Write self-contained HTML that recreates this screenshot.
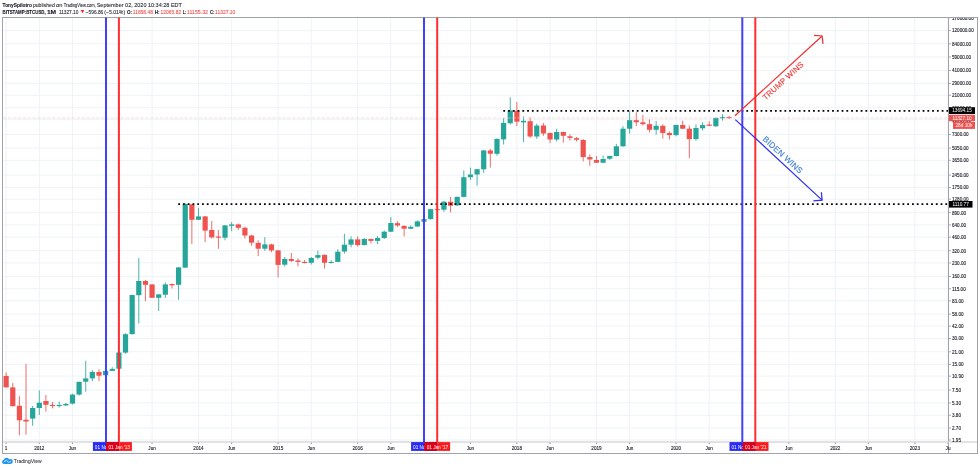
<!DOCTYPE html>
<html><head><meta charset="utf-8"><style>
html,body{margin:0;padding:0;background:#fff;width:980px;height:468px;overflow:hidden}
body{position:relative;font-family:"Liberation Sans",sans-serif}
svg text{font-family:"Liberation Sans",sans-serif}
svg{will-change:transform}
</style></head><body>
<svg width="980" height="468" viewBox="0 0 980 468" style="position:absolute;left:0;top:0">
<g stroke="#edf3f7" stroke-width="1"><line x1="6.13" y1="18" x2="6.13" y2="441" /><line x1="6.13" y1="442" x2="6.13" y2="444" stroke="#8a8d96" /><line x1="39.30" y1="18" x2="39.30" y2="441" /><line x1="39.30" y1="442" x2="39.30" y2="444" stroke="#8a8d96" /><line x1="72.47" y1="18" x2="72.47" y2="441" /><line x1="72.47" y1="442" x2="72.47" y2="444" stroke="#8a8d96" /><line x1="152.06" y1="18" x2="152.06" y2="441" /><line x1="152.06" y1="442" x2="152.06" y2="444" stroke="#8a8d96" /><line x1="198.49" y1="18" x2="198.49" y2="441" /><line x1="198.49" y1="442" x2="198.49" y2="444" stroke="#8a8d96" /><line x1="231.66" y1="18" x2="231.66" y2="441" /><line x1="231.66" y1="442" x2="231.66" y2="444" stroke="#8a8d96" /><line x1="278.09" y1="18" x2="278.09" y2="441" /><line x1="278.09" y1="442" x2="278.09" y2="444" stroke="#8a8d96" /><line x1="311.25" y1="18" x2="311.25" y2="441" /><line x1="311.25" y1="442" x2="311.25" y2="444" stroke="#8a8d96" /><line x1="357.68" y1="18" x2="357.68" y2="441" /><line x1="357.68" y1="442" x2="357.68" y2="444" stroke="#8a8d96" /><line x1="390.85" y1="18" x2="390.85" y2="441" /><line x1="390.85" y1="442" x2="390.85" y2="444" stroke="#8a8d96" /><line x1="470.44" y1="18" x2="470.44" y2="441" /><line x1="470.44" y1="442" x2="470.44" y2="444" stroke="#8a8d96" /><line x1="516.88" y1="18" x2="516.88" y2="441" /><line x1="516.88" y1="442" x2="516.88" y2="444" stroke="#8a8d96" /><line x1="550.04" y1="18" x2="550.04" y2="441" /><line x1="550.04" y1="442" x2="550.04" y2="444" stroke="#8a8d96" /><line x1="596.47" y1="18" x2="596.47" y2="441" /><line x1="596.47" y1="442" x2="596.47" y2="444" stroke="#8a8d96" /><line x1="629.64" y1="18" x2="629.64" y2="441" /><line x1="629.64" y1="442" x2="629.64" y2="444" stroke="#8a8d96" /><line x1="676.07" y1="18" x2="676.07" y2="441" /><line x1="676.07" y1="442" x2="676.07" y2="444" stroke="#8a8d96" /><line x1="709.23" y1="18" x2="709.23" y2="441" /><line x1="709.23" y1="442" x2="709.23" y2="444" stroke="#8a8d96" /><line x1="788.83" y1="18" x2="788.83" y2="441" /><line x1="788.83" y1="442" x2="788.83" y2="444" stroke="#8a8d96" /><line x1="835.26" y1="18" x2="835.26" y2="441" /><line x1="835.26" y1="442" x2="835.26" y2="444" stroke="#8a8d96" /><line x1="868.42" y1="18" x2="868.42" y2="441" /><line x1="868.42" y1="442" x2="868.42" y2="444" stroke="#8a8d96" /><line x1="914.86" y1="18" x2="914.86" y2="441" /><line x1="914.86" y1="442" x2="914.86" y2="444" stroke="#8a8d96" /><line x1="948.02" y1="18" x2="948.02" y2="441" /><line x1="948.02" y1="442" x2="948.02" y2="444" stroke="#8a8d96" /><line x1="118.90" y1="18" x2="118.90" y2="441" /><line x1="437.28" y1="18" x2="437.28" y2="441" /><line x1="755.66" y1="18" x2="755.66" y2="441" /><line x1="3" y1="17.7" x2="948" y2="17.7" /><line x1="3" y1="30.6" x2="948" y2="30.6" /><line x1="3" y1="43.8" x2="948" y2="43.8" /><line x1="3" y1="57.0" x2="948" y2="57.0" /><line x1="3" y1="70.5" x2="948" y2="70.5" /><line x1="3" y1="83.3" x2="948" y2="83.3" /><line x1="3" y1="95.3" x2="948" y2="95.3" /><line x1="3" y1="107.8" x2="948" y2="107.8" /><line x1="3" y1="119.7" x2="948" y2="119.7" /><line x1="3" y1="134.5" x2="948" y2="134.5" /><line x1="3" y1="148.2" x2="948" y2="148.2" /><line x1="3" y1="160.3" x2="948" y2="160.3" /><line x1="3" y1="175.1" x2="948" y2="175.1" /><line x1="3" y1="187.6" x2="948" y2="187.6" /><line x1="3" y1="199.2" x2="948" y2="199.2" /><line x1="3" y1="212.7" x2="948" y2="212.7" /><line x1="3" y1="224.9" x2="948" y2="224.9" /><line x1="3" y1="237.2" x2="948" y2="237.2" /><line x1="3" y1="250.7" x2="948" y2="250.7" /><line x1="3" y1="262.9" x2="948" y2="262.9" /><line x1="3" y1="276.4" x2="948" y2="276.4" /><line x1="3" y1="288.7" x2="948" y2="288.7" /><line x1="3" y1="300.8" x2="948" y2="300.8" /><line x1="3" y1="314.1" x2="948" y2="314.1" /><line x1="3" y1="326.1" x2="948" y2="326.1" /><line x1="3" y1="338.6" x2="948" y2="338.6" /><line x1="3" y1="351.8" x2="948" y2="351.8" /><line x1="3" y1="364.3" x2="948" y2="364.3" /><line x1="3" y1="376.1" x2="948" y2="376.1" /><line x1="3" y1="390.0" x2="948" y2="390.0" /><line x1="3" y1="402.9" x2="948" y2="402.9" /><line x1="3" y1="415.3" x2="948" y2="415.3" /><line x1="3" y1="428.0" x2="948" y2="428.0" /><line x1="3" y1="440.0" x2="948" y2="440.0" /></g>
<!-- frame -->
<rect x="2.5" y="17.5" width="975" height="436" fill="none" stroke="#a1a3ab" stroke-width="1"/>
<line x1="948.5" y1="17" x2="948.5" y2="454" stroke="#a1a3ab" stroke-width="1"/>
<line x1="3" y1="442" x2="977" y2="442" stroke="#d8d9dd" stroke-width="1.6"/>
<g><line x1="6.13" y1="372.5" x2="6.13" y2="387.4" stroke="#ef5350" stroke-width="0.85"/><rect x="3.53" y="375.9" width="5.2" height="11.5" fill="#ef5350"/><line x1="12.77" y1="383.0" x2="12.77" y2="406.2" stroke="#ef5350" stroke-width="0.85"/><rect x="10.17" y="387.4" width="5.2" height="18.8" fill="#ef5350"/><line x1="19.40" y1="396.2" x2="19.40" y2="435.2" stroke="#ef5350" stroke-width="0.85"/><rect x="16.80" y="405.8" width="5.2" height="14.5" fill="#ef5350"/><line x1="26.03" y1="363.8" x2="26.03" y2="434.7" stroke="#ef5350" stroke-width="0.85"/><rect x="23.43" y="419.7" width="5.2" height="1.8" fill="#ef5350"/><line x1="32.67" y1="406.0" x2="32.67" y2="425.8" stroke="#26a69a" stroke-width="0.85"/><rect x="30.07" y="408.0" width="5.2" height="10.6" fill="#26a69a"/><line x1="39.30" y1="390.4" x2="39.30" y2="415.0" stroke="#26a69a" stroke-width="0.85"/><rect x="36.70" y="402.7" width="5.2" height="5.3" fill="#26a69a"/><line x1="45.93" y1="395.0" x2="45.93" y2="411.6" stroke="#ef5350" stroke-width="0.85"/><rect x="43.33" y="401.0" width="5.2" height="3.8" fill="#ef5350"/><line x1="52.57" y1="402.0" x2="52.57" y2="408.4" stroke="#ef5350" stroke-width="0.85"/><rect x="49.97" y="405.0" width="5.2" height="1.1" fill="#ef5350"/><line x1="59.20" y1="401.6" x2="59.20" y2="407.6" stroke="#26a69a" stroke-width="0.85"/><rect x="56.60" y="405.0" width="5.2" height="1.1" fill="#26a69a"/><line x1="65.83" y1="403.0" x2="65.83" y2="406.0" stroke="#26a69a" stroke-width="0.85"/><rect x="63.23" y="403.9" width="5.2" height="1.5" fill="#26a69a"/><line x1="72.47" y1="393.8" x2="72.47" y2="404.5" stroke="#26a69a" stroke-width="0.85"/><rect x="69.87" y="394.6" width="5.2" height="9.0" fill="#26a69a"/><line x1="79.10" y1="381.5" x2="79.10" y2="395.5" stroke="#26a69a" stroke-width="0.85"/><rect x="76.50" y="381.9" width="5.2" height="12.7" fill="#26a69a"/><line x1="85.73" y1="360.8" x2="85.73" y2="391.6" stroke="#26a69a" stroke-width="0.85"/><rect x="83.13" y="378.4" width="5.2" height="3.3" fill="#26a69a"/><line x1="92.36" y1="370.2" x2="92.36" y2="381.1" stroke="#26a69a" stroke-width="0.85"/><rect x="89.76" y="372.0" width="5.2" height="6.4" fill="#26a69a"/><line x1="99.00" y1="369.2" x2="99.00" y2="381.1" stroke="#ef5350" stroke-width="0.85"/><rect x="96.40" y="372.0" width="5.2" height="3.7" fill="#ef5350"/><line x1="105.63" y1="370.0" x2="105.63" y2="376.0" stroke="#26a69a" stroke-width="0.85"/><rect x="103.03" y="370.9" width="5.2" height="4.3" fill="#26a69a"/><line x1="112.26" y1="367.2" x2="112.26" y2="371.0" stroke="#26a69a" stroke-width="0.85"/><rect x="109.66" y="368.9" width="5.2" height="2.0" fill="#26a69a"/><line x1="118.90" y1="352.5" x2="118.90" y2="368.7" stroke="#26a69a" stroke-width="0.85"/><rect x="116.30" y="352.5" width="5.2" height="16.2" fill="#26a69a"/><line x1="125.53" y1="333.3" x2="125.53" y2="353.8" stroke="#26a69a" stroke-width="0.85"/><rect x="122.93" y="334.2" width="5.2" height="18.4" fill="#26a69a"/><line x1="132.16" y1="295.0" x2="132.16" y2="334.2" stroke="#26a69a" stroke-width="0.85"/><rect x="129.56" y="295.0" width="5.2" height="39.2" fill="#26a69a"/><line x1="138.80" y1="258.0" x2="138.80" y2="323.5" stroke="#26a69a" stroke-width="0.85"/><rect x="136.20" y="281.0" width="5.2" height="14.2" fill="#26a69a"/><line x1="145.43" y1="280.0" x2="145.43" y2="301.2" stroke="#ef5350" stroke-width="0.85"/><rect x="142.83" y="281.0" width="5.2" height="3.8" fill="#ef5350"/><line x1="152.06" y1="284.4" x2="152.06" y2="297.8" stroke="#ef5350" stroke-width="0.85"/><rect x="149.46" y="284.4" width="5.2" height="13.4" fill="#ef5350"/><line x1="158.69" y1="294.0" x2="158.69" y2="311.0" stroke="#26a69a" stroke-width="0.85"/><rect x="156.09" y="294.4" width="5.2" height="3.4" fill="#26a69a"/><line x1="165.33" y1="282.4" x2="165.33" y2="297.8" stroke="#26a69a" stroke-width="0.85"/><rect x="162.73" y="284.4" width="5.2" height="10.3" fill="#26a69a"/><line x1="171.96" y1="283.6" x2="171.96" y2="288.4" stroke="#ef5350" stroke-width="0.85"/><rect x="169.36" y="284.0" width="5.2" height="1.3" fill="#ef5350"/><line x1="178.59" y1="267.0" x2="178.59" y2="299.8" stroke="#26a69a" stroke-width="0.85"/><rect x="175.99" y="267.4" width="5.2" height="17.4" fill="#26a69a"/><line x1="185.23" y1="203.2" x2="185.23" y2="268.0" stroke="#26a69a" stroke-width="0.85"/><rect x="182.63" y="203.9" width="5.2" height="63.7" fill="#26a69a"/><line x1="191.86" y1="204.0" x2="191.86" y2="244.0" stroke="#ef5350" stroke-width="0.85"/><rect x="189.26" y="204.4" width="5.2" height="15.4" fill="#ef5350"/><line x1="198.49" y1="207.8" x2="198.49" y2="220.0" stroke="#26a69a" stroke-width="0.85"/><rect x="195.89" y="216.4" width="5.2" height="3.4" fill="#26a69a"/><line x1="205.12" y1="216.0" x2="205.12" y2="242.0" stroke="#ef5350" stroke-width="0.85"/><rect x="202.53" y="216.4" width="5.2" height="14.2" fill="#ef5350"/><line x1="211.76" y1="221.0" x2="211.76" y2="238.6" stroke="#ef5350" stroke-width="0.85"/><rect x="209.16" y="230.0" width="5.2" height="7.4" fill="#ef5350"/><line x1="218.39" y1="230.0" x2="218.39" y2="248.8" stroke="#ef5350" stroke-width="0.85"/><rect x="215.79" y="236.5" width="5.2" height="1.2" fill="#ef5350"/><line x1="225.02" y1="225.0" x2="225.02" y2="240.3" stroke="#26a69a" stroke-width="0.85"/><rect x="222.42" y="225.4" width="5.2" height="12.3" fill="#26a69a"/><line x1="231.66" y1="222.0" x2="231.66" y2="231.2" stroke="#26a69a" stroke-width="0.85"/><rect x="229.06" y="224.4" width="5.2" height="1.4" fill="#26a69a"/><line x1="238.29" y1="223.5" x2="238.29" y2="230.0" stroke="#ef5350" stroke-width="0.85"/><rect x="235.69" y="224.4" width="5.2" height="3.4" fill="#ef5350"/><line x1="244.92" y1="226.6" x2="244.92" y2="238.6" stroke="#ef5350" stroke-width="0.85"/><rect x="242.32" y="227.8" width="5.2" height="7.7" fill="#ef5350"/><line x1="251.56" y1="234.7" x2="251.56" y2="245.8" stroke="#ef5350" stroke-width="0.85"/><rect x="248.96" y="235.5" width="5.2" height="7.2" fill="#ef5350"/><line x1="258.19" y1="240.3" x2="258.19" y2="256.0" stroke="#ef5350" stroke-width="0.85"/><rect x="255.59" y="242.9" width="5.2" height="5.8" fill="#ef5350"/><line x1="264.82" y1="237.2" x2="264.82" y2="250.9" stroke="#26a69a" stroke-width="0.85"/><rect x="262.22" y="244.4" width="5.2" height="4.3" fill="#26a69a"/><line x1="271.45" y1="243.7" x2="271.45" y2="252.3" stroke="#ef5350" stroke-width="0.85"/><rect x="268.85" y="244.4" width="5.2" height="6.0" fill="#ef5350"/><line x1="278.09" y1="250.0" x2="278.09" y2="277.4" stroke="#ef5350" stroke-width="0.85"/><rect x="275.49" y="250.4" width="5.2" height="14.5" fill="#ef5350"/><line x1="284.72" y1="257.0" x2="284.72" y2="266.7" stroke="#26a69a" stroke-width="0.85"/><rect x="282.12" y="259.0" width="5.2" height="5.7" fill="#26a69a"/><line x1="291.35" y1="253.0" x2="291.35" y2="262.0" stroke="#ef5350" stroke-width="0.85"/><rect x="288.75" y="259.0" width="5.2" height="1.9" fill="#ef5350"/><line x1="297.99" y1="258.3" x2="297.99" y2="266.3" stroke="#ef5350" stroke-width="0.85"/><rect x="295.39" y="260.5" width="5.2" height="1.4" fill="#ef5350"/><line x1="304.62" y1="260.0" x2="304.62" y2="263.5" stroke="#ef5350" stroke-width="0.85"/><rect x="302.02" y="261.9" width="5.2" height="1.1" fill="#ef5350"/><line x1="311.25" y1="257.0" x2="311.25" y2="264.5" stroke="#26a69a" stroke-width="0.85"/><rect x="308.65" y="258.0" width="5.2" height="4.8" fill="#26a69a"/><line x1="317.89" y1="250.6" x2="317.89" y2="259.4" stroke="#26a69a" stroke-width="0.85"/><rect x="315.29" y="255.1" width="5.2" height="2.6" fill="#26a69a"/><line x1="324.52" y1="254.5" x2="324.52" y2="268.6" stroke="#ef5350" stroke-width="0.85"/><rect x="321.92" y="254.9" width="5.2" height="7.9" fill="#ef5350"/><line x1="331.15" y1="260.3" x2="331.15" y2="263.5" stroke="#26a69a" stroke-width="0.85"/><rect x="328.55" y="261.9" width="5.2" height="1.1" fill="#26a69a"/><line x1="337.79" y1="249.1" x2="337.79" y2="262.0" stroke="#26a69a" stroke-width="0.85"/><rect x="335.19" y="251.7" width="5.2" height="10.2" fill="#26a69a"/><line x1="344.42" y1="233.8" x2="344.42" y2="253.7" stroke="#26a69a" stroke-width="0.85"/><rect x="341.82" y="244.7" width="5.2" height="6.8" fill="#26a69a"/><line x1="351.05" y1="236.4" x2="351.05" y2="247.3" stroke="#26a69a" stroke-width="0.85"/><rect x="348.45" y="239.4" width="5.2" height="5.3" fill="#26a69a"/><line x1="357.68" y1="236.4" x2="357.68" y2="246.7" stroke="#ef5350" stroke-width="0.85"/><rect x="355.08" y="239.4" width="5.2" height="5.6" fill="#ef5350"/><line x1="364.32" y1="238.0" x2="364.32" y2="245.5" stroke="#26a69a" stroke-width="0.85"/><rect x="361.72" y="239.0" width="5.2" height="6.0" fill="#26a69a"/><line x1="370.95" y1="238.5" x2="370.95" y2="243.5" stroke="#ef5350" stroke-width="0.85"/><rect x="368.35" y="239.0" width="5.2" height="1.9" fill="#ef5350"/><line x1="377.58" y1="236.0" x2="377.58" y2="244.0" stroke="#26a69a" stroke-width="0.85"/><rect x="374.98" y="238.0" width="5.2" height="2.9" fill="#26a69a"/><line x1="384.22" y1="230.4" x2="384.22" y2="239.0" stroke="#26a69a" stroke-width="0.85"/><rect x="381.62" y="231.7" width="5.2" height="6.3" fill="#26a69a"/><line x1="390.85" y1="217.2" x2="390.85" y2="232.0" stroke="#26a69a" stroke-width="0.85"/><rect x="388.25" y="223.0" width="5.2" height="8.7" fill="#26a69a"/><line x1="397.48" y1="221.3" x2="397.48" y2="226.8" stroke="#ef5350" stroke-width="0.85"/><rect x="394.88" y="223.2" width="5.2" height="2.3" fill="#ef5350"/><line x1="404.12" y1="225.5" x2="404.12" y2="236.4" stroke="#ef5350" stroke-width="0.85"/><rect x="401.51" y="225.9" width="5.2" height="2.8" fill="#ef5350"/><line x1="410.75" y1="225.5" x2="410.75" y2="229.0" stroke="#26a69a" stroke-width="0.85"/><rect x="408.15" y="226.8" width="5.2" height="1.9" fill="#26a69a"/><line x1="417.38" y1="220.4" x2="417.38" y2="227.0" stroke="#26a69a" stroke-width="0.85"/><rect x="414.78" y="221.4" width="5.2" height="5.1" fill="#26a69a"/><line x1="424.01" y1="218.5" x2="424.01" y2="222.0" stroke="#26a69a" stroke-width="0.85"/><rect x="421.41" y="219.1" width="5.2" height="2.6" fill="#26a69a"/><line x1="430.65" y1="208.8" x2="430.65" y2="219.5" stroke="#26a69a" stroke-width="0.85"/><rect x="428.05" y="209.2" width="5.2" height="9.9" fill="#26a69a"/><line x1="437.28" y1="208.5" x2="437.28" y2="211.0" stroke="#ef5350" stroke-width="0.85"/><rect x="434.68" y="209.2" width="5.2" height="1.0" fill="#ef5350"/><line x1="443.91" y1="200.9" x2="443.91" y2="211.8" stroke="#26a69a" stroke-width="0.85"/><rect x="441.31" y="201.7" width="5.2" height="8.0" fill="#26a69a"/><line x1="450.55" y1="196.9" x2="450.55" y2="212.4" stroke="#ef5350" stroke-width="0.85"/><rect x="447.95" y="201.7" width="5.2" height="4.0" fill="#ef5350"/><line x1="457.18" y1="196.5" x2="457.18" y2="206.0" stroke="#26a69a" stroke-width="0.85"/><rect x="454.58" y="196.9" width="5.2" height="8.5" fill="#26a69a"/><line x1="463.81" y1="170.4" x2="463.81" y2="197.3" stroke="#26a69a" stroke-width="0.85"/><rect x="461.21" y="177.2" width="5.2" height="19.7" fill="#26a69a"/><line x1="470.44" y1="167.6" x2="470.44" y2="180.0" stroke="#26a69a" stroke-width="0.85"/><rect x="467.84" y="174.5" width="5.2" height="2.7" fill="#26a69a"/><line x1="477.08" y1="168.8" x2="477.08" y2="185.7" stroke="#26a69a" stroke-width="0.85"/><rect x="474.48" y="169.2" width="5.2" height="5.3" fill="#26a69a"/><line x1="483.71" y1="150.0" x2="483.71" y2="172.9" stroke="#26a69a" stroke-width="0.85"/><rect x="481.11" y="150.4" width="5.2" height="18.9" fill="#26a69a"/><line x1="490.34" y1="149.0" x2="490.34" y2="167.6" stroke="#ef5350" stroke-width="0.85"/><rect x="487.74" y="150.5" width="5.2" height="3.2" fill="#ef5350"/><line x1="496.98" y1="138.5" x2="496.98" y2="155.7" stroke="#26a69a" stroke-width="0.85"/><rect x="494.38" y="138.9" width="5.2" height="14.9" fill="#26a69a"/><line x1="503.61" y1="118.0" x2="503.61" y2="144.5" stroke="#26a69a" stroke-width="0.85"/><rect x="501.01" y="122.9" width="5.2" height="16.5" fill="#26a69a"/><line x1="510.24" y1="97.2" x2="510.24" y2="124.5" stroke="#26a69a" stroke-width="0.85"/><rect x="507.64" y="110.5" width="5.2" height="12.7" fill="#26a69a"/><line x1="516.88" y1="102.0" x2="516.88" y2="126.0" stroke="#ef5350" stroke-width="0.85"/><rect x="514.28" y="110.8" width="5.2" height="10.9" fill="#ef5350"/><line x1="523.51" y1="116.4" x2="523.51" y2="142.1" stroke="#26a69a" stroke-width="0.85"/><rect x="520.91" y="120.8" width="5.2" height="1.6" fill="#26a69a"/><line x1="530.14" y1="117.2" x2="530.14" y2="138.1" stroke="#ef5350" stroke-width="0.85"/><rect x="527.54" y="121.2" width="5.2" height="15.3" fill="#ef5350"/><line x1="536.77" y1="123.7" x2="536.77" y2="138.9" stroke="#26a69a" stroke-width="0.85"/><rect x="534.17" y="125.6" width="5.2" height="10.9" fill="#26a69a"/><line x1="543.41" y1="123.0" x2="543.41" y2="135.8" stroke="#ef5350" stroke-width="0.85"/><rect x="540.81" y="125.5" width="5.2" height="8.0" fill="#ef5350"/><line x1="550.04" y1="132.6" x2="550.04" y2="143.1" stroke="#ef5350" stroke-width="0.85"/><rect x="547.44" y="133.0" width="5.2" height="6.5" fill="#ef5350"/><line x1="556.67" y1="128.7" x2="556.67" y2="141.5" stroke="#26a69a" stroke-width="0.85"/><rect x="554.07" y="132.0" width="5.2" height="7.5" fill="#26a69a"/><line x1="563.31" y1="131.6" x2="563.31" y2="142.7" stroke="#ef5350" stroke-width="0.85"/><rect x="560.71" y="132.0" width="5.2" height="3.8" fill="#ef5350"/><line x1="569.94" y1="134.2" x2="569.94" y2="140.6" stroke="#ef5350" stroke-width="0.85"/><rect x="567.34" y="136.3" width="5.2" height="1.6" fill="#ef5350"/><line x1="576.57" y1="137.0" x2="576.57" y2="141.5" stroke="#ef5350" stroke-width="0.85"/><rect x="573.97" y="138.2" width="5.2" height="1.6" fill="#ef5350"/><line x1="583.21" y1="139.0" x2="583.21" y2="161.4" stroke="#ef5350" stroke-width="0.85"/><rect x="580.61" y="140.0" width="5.2" height="17.1" fill="#ef5350"/><line x1="589.84" y1="154.4" x2="589.84" y2="165.9" stroke="#ef5350" stroke-width="0.85"/><rect x="587.24" y="157.1" width="5.2" height="2.4" fill="#ef5350"/><line x1="596.47" y1="156.0" x2="596.47" y2="163.0" stroke="#ef5350" stroke-width="0.85"/><rect x="593.87" y="160.0" width="5.2" height="2.7" fill="#ef5350"/><line x1="603.10" y1="155.5" x2="603.10" y2="163.0" stroke="#26a69a" stroke-width="0.85"/><rect x="600.50" y="159.0" width="5.2" height="3.7" fill="#26a69a"/><line x1="609.74" y1="155.6" x2="609.74" y2="159.8" stroke="#26a69a" stroke-width="0.85"/><rect x="607.14" y="156.0" width="5.2" height="2.7" fill="#26a69a"/><line x1="616.37" y1="143.8" x2="616.37" y2="156.4" stroke="#26a69a" stroke-width="0.85"/><rect x="613.77" y="146.3" width="5.2" height="9.7" fill="#26a69a"/><line x1="623.00" y1="126.2" x2="623.00" y2="146.7" stroke="#26a69a" stroke-width="0.85"/><rect x="620.40" y="128.7" width="5.2" height="17.6" fill="#26a69a"/><line x1="629.64" y1="110.6" x2="629.64" y2="133.8" stroke="#26a69a" stroke-width="0.85"/><rect x="627.04" y="120.2" width="5.2" height="8.5" fill="#26a69a"/><line x1="636.27" y1="112.2" x2="636.27" y2="126.2" stroke="#ef5350" stroke-width="0.85"/><rect x="633.67" y="120.2" width="5.2" height="2.1" fill="#ef5350"/><line x1="642.90" y1="115.0" x2="642.90" y2="125.5" stroke="#ef5350" stroke-width="0.85"/><rect x="640.30" y="122.3" width="5.2" height="1.9" fill="#ef5350"/><line x1="649.54" y1="119.4" x2="649.54" y2="132.6" stroke="#ef5350" stroke-width="0.85"/><rect x="646.94" y="124.2" width="5.2" height="5.6" fill="#ef5350"/><line x1="656.17" y1="121.0" x2="656.17" y2="134.6" stroke="#26a69a" stroke-width="0.85"/><rect x="653.57" y="125.8" width="5.2" height="4.0" fill="#26a69a"/><line x1="662.80" y1="124.2" x2="662.80" y2="138.7" stroke="#ef5350" stroke-width="0.85"/><rect x="660.20" y="125.8" width="5.2" height="7.2" fill="#ef5350"/><line x1="669.43" y1="131.4" x2="669.43" y2="139.5" stroke="#ef5350" stroke-width="0.85"/><rect x="666.83" y="133.0" width="5.2" height="2.1" fill="#ef5350"/><line x1="676.07" y1="124.6" x2="676.07" y2="136.3" stroke="#26a69a" stroke-width="0.85"/><rect x="673.47" y="125.0" width="5.2" height="10.1" fill="#26a69a"/><line x1="682.70" y1="120.7" x2="682.70" y2="129.0" stroke="#ef5350" stroke-width="0.85"/><rect x="680.10" y="125.0" width="5.2" height="3.7" fill="#ef5350"/><line x1="689.33" y1="125.5" x2="689.33" y2="158.1" stroke="#ef5350" stroke-width="0.85"/><rect x="686.73" y="128.7" width="5.2" height="10.4" fill="#ef5350"/><line x1="695.97" y1="124.4" x2="695.97" y2="140.5" stroke="#26a69a" stroke-width="0.85"/><rect x="693.37" y="128.0" width="5.2" height="11.1" fill="#26a69a"/><line x1="702.60" y1="122.2" x2="702.60" y2="130.6" stroke="#26a69a" stroke-width="0.85"/><rect x="700.00" y="125.1" width="5.2" height="3.2" fill="#26a69a"/><line x1="709.23" y1="121.4" x2="709.23" y2="126.2" stroke="#ef5350" stroke-width="0.85"/><rect x="706.63" y="124.6" width="5.2" height="1.2" fill="#ef5350"/><line x1="715.87" y1="117.5" x2="715.87" y2="126.7" stroke="#26a69a" stroke-width="0.85"/><rect x="713.27" y="117.9" width="5.2" height="8.4" fill="#26a69a"/><line x1="722.50" y1="114.2" x2="722.50" y2="120.6" stroke="#26a69a" stroke-width="0.85"/><rect x="719.90" y="117.0" width="5.2" height="1.2" fill="#26a69a"/><line x1="729.13" y1="115.8" x2="729.13" y2="119.0" stroke="#ef5350" stroke-width="0.85"/><rect x="726.53" y="117.1" width="5.2" height="1.1" fill="#ef5350"/></g>
<line x1="3" y1="118" x2="948" y2="118" stroke="#f7c4c4" stroke-width="0.6" stroke-dasharray="3.5 1.4"/>
<line x1="503.3" y1="110.9" x2="948" y2="110.9" stroke="#000" stroke-width="1.6" stroke-dasharray="1.8 2.965"/>
<line x1="178.2" y1="204.1" x2="948" y2="204.1" stroke="#000" stroke-width="1.6" stroke-dasharray="1.8 2.965"/>
<line x1="424" y1="17.5" x2="424" y2="442" stroke="#4040ff" stroke-width="2"/>
<line x1="437.2" y1="17.5" x2="437.2" y2="442" stroke="#ff2e2e" stroke-width="2"/>
<line x1="106" y1="17.5" x2="106" y2="442" stroke="#4040ff" stroke-width="2"/>
<line x1="118.9" y1="17.5" x2="118.9" y2="442" stroke="#ff2e2e" stroke-width="2"/>
<line x1="742.3" y1="17.5" x2="742.3" y2="442" stroke="#4040ff" stroke-width="2"/>
<line x1="755.3" y1="17.5" x2="755.3" y2="442" stroke="#ff2e2e" stroke-width="2"/>
<!-- trump arrow -->
<g stroke="#f23030" stroke-width="1.25" fill="none">
<line x1="735" y1="115.7" x2="822.1" y2="36"/>
<polyline points="814,35.4 822.1,36 823,43.9"/>
</g>
<text x="0" y="0" transform="translate(765.5,100.6) rotate(-42.5)" fill="#f03a3a" stroke="#f03a3a" stroke-width="0.15" style="font-size:7.9px;letter-spacing:0.2px">TRUMP WINS</text>
<g stroke="#3030ee" stroke-width="1.25" fill="none">
<line x1="735.3" y1="119.6" x2="822.1" y2="200.1"/>
<polyline points="813.4,200.8 822.1,200.1 821.4,192.3"/>
</g>
<text x="0" y="0" transform="translate(762.3,139.8) rotate(42.5)" fill="#3f7fd2" stroke="#3f7fd2" stroke-width="0.15" style="font-size:8.2px;letter-spacing:0.22px">BIDEN WINS</text>
<defs><clipPath id="pc"><rect x="948" y="18" width="29" height="435"/></clipPath></defs>
<g clip-path="url(#pc)" fill="#1c1e26" stroke="#1c1e26" stroke-width="0.12" style="font-size:4.6px"><line x1="948.5" y1="17.7" x2="951" y2="17.7" stroke="#9598a1" stroke-width="0.8"/><text x="952" y="19.5">170000.00</text><line x1="948.5" y1="30.6" x2="951" y2="30.6" stroke="#9598a1" stroke-width="0.8"/><text x="952" y="32.4">120000.00</text><line x1="948.5" y1="43.8" x2="951" y2="43.8" stroke="#9598a1" stroke-width="0.8"/><text x="952" y="45.6">84000.00</text><line x1="948.5" y1="57.0" x2="951" y2="57.0" stroke="#9598a1" stroke-width="0.8"/><text x="952" y="58.8">59000.00</text><line x1="948.5" y1="70.5" x2="951" y2="70.5" stroke="#9598a1" stroke-width="0.8"/><text x="952" y="72.3">41000.00</text><line x1="948.5" y1="83.3" x2="951" y2="83.3" stroke="#9598a1" stroke-width="0.8"/><text x="952" y="85.1">29000.00</text><line x1="948.5" y1="95.3" x2="951" y2="95.3" stroke="#9598a1" stroke-width="0.8"/><text x="952" y="97.1">21000.00</text><line x1="948.5" y1="107.8" x2="951" y2="107.8" stroke="#9598a1" stroke-width="0.8"/><text x="952" y="109.6">15000.00</text><line x1="948.5" y1="119.7" x2="951" y2="119.7" stroke="#9598a1" stroke-width="0.8"/><text x="952" y="121.5">10900.00</text><line x1="948.5" y1="134.5" x2="951" y2="134.5" stroke="#9598a1" stroke-width="0.8"/><text x="952" y="136.3">7300.00</text><line x1="948.5" y1="148.2" x2="951" y2="148.2" stroke="#9598a1" stroke-width="0.8"/><text x="952" y="150.0">5050.00</text><line x1="948.5" y1="160.3" x2="951" y2="160.3" stroke="#9598a1" stroke-width="0.8"/><text x="952" y="162.1">3650.00</text><line x1="948.5" y1="175.1" x2="951" y2="175.1" stroke="#9598a1" stroke-width="0.8"/><text x="952" y="176.9">2450.00</text><line x1="948.5" y1="187.6" x2="951" y2="187.6" stroke="#9598a1" stroke-width="0.8"/><text x="952" y="189.4">1750.00</text><line x1="948.5" y1="199.2" x2="951" y2="199.2" stroke="#9598a1" stroke-width="0.8"/><text x="952" y="201.0">1280.00</text><line x1="948.5" y1="212.7" x2="951" y2="212.7" stroke="#9598a1" stroke-width="0.8"/><text x="952" y="214.5">890.00</text><line x1="948.5" y1="224.9" x2="951" y2="224.9" stroke="#9598a1" stroke-width="0.8"/><text x="952" y="226.7">640.00</text><line x1="948.5" y1="237.2" x2="951" y2="237.2" stroke="#9598a1" stroke-width="0.8"/><text x="952" y="239.0">460.00</text><line x1="948.5" y1="250.7" x2="951" y2="250.7" stroke="#9598a1" stroke-width="0.8"/><text x="952" y="252.5">320.00</text><line x1="948.5" y1="262.9" x2="951" y2="262.9" stroke="#9598a1" stroke-width="0.8"/><text x="952" y="264.7">230.00</text><line x1="948.5" y1="276.4" x2="951" y2="276.4" stroke="#9598a1" stroke-width="0.8"/><text x="952" y="278.2">160.00</text><line x1="948.5" y1="288.7" x2="951" y2="288.7" stroke="#9598a1" stroke-width="0.8"/><text x="952" y="290.5">115.00</text><line x1="948.5" y1="300.8" x2="951" y2="300.8" stroke="#9598a1" stroke-width="0.8"/><text x="952" y="302.6">83.00</text><line x1="948.5" y1="314.1" x2="951" y2="314.1" stroke="#9598a1" stroke-width="0.8"/><text x="952" y="315.9">58.00</text><line x1="948.5" y1="326.1" x2="951" y2="326.1" stroke="#9598a1" stroke-width="0.8"/><text x="952" y="327.9">42.00</text><line x1="948.5" y1="338.6" x2="951" y2="338.6" stroke="#9598a1" stroke-width="0.8"/><text x="952" y="340.4">30.00</text><line x1="948.5" y1="351.8" x2="951" y2="351.8" stroke="#9598a1" stroke-width="0.8"/><text x="952" y="353.6">21.00</text><line x1="948.5" y1="364.3" x2="951" y2="364.3" stroke="#9598a1" stroke-width="0.8"/><text x="952" y="366.1">15.00</text><line x1="948.5" y1="376.1" x2="951" y2="376.1" stroke="#9598a1" stroke-width="0.8"/><text x="952" y="377.9">10.90</text><line x1="948.5" y1="390.0" x2="951" y2="390.0" stroke="#9598a1" stroke-width="0.8"/><text x="952" y="391.8">7.50</text><line x1="948.5" y1="402.9" x2="951" y2="402.9" stroke="#9598a1" stroke-width="0.8"/><text x="952" y="404.7">5.30</text><line x1="948.5" y1="415.3" x2="951" y2="415.3" stroke="#9598a1" stroke-width="0.8"/><text x="952" y="417.1">3.80</text><line x1="948.5" y1="428.0" x2="951" y2="428.0" stroke="#9598a1" stroke-width="0.8"/><text x="952" y="429.8">2.70</text><line x1="948.5" y1="440.0" x2="951" y2="440.0" stroke="#9598a1" stroke-width="0.8"/><text x="952" y="441.8">1.95</text></g>
<g fill="#1c1e26" stroke="#1c1e26" stroke-width="0.12" style="font-size:4.6px" text-anchor="middle"><text x="6.13" y="450">1</text><text x="39.30" y="450">2012</text><text x="72.47" y="450">Jun</text><text x="152.06" y="450">Jun</text><text x="198.49" y="450">2014</text><text x="231.66" y="450">Jun</text><text x="278.09" y="450">2015</text><text x="311.25" y="450">Jun</text><text x="357.68" y="450">2016</text><text x="390.85" y="450">Jun</text><text x="470.44" y="450">Jun</text><text x="516.88" y="450">2018</text><text x="550.04" y="450">Jun</text><text x="596.47" y="450">2019</text><text x="629.64" y="450">Jun</text><text x="676.07" y="450">2020</text><text x="709.23" y="450">Jun</text><text x="788.83" y="450">Jun</text><text x="835.26" y="450">2022</text><text x="868.42" y="450">Jun</text><text x="914.86" y="450">2023</text><text x="948.02" y="450">Ju</text></g>
<!-- price tags -->
<rect x="949" y="107.2" width="26" height="6.8" fill="#000"/>
<text x="962" y="112.4" fill="#fff" text-anchor="middle" style="font-size:4.7px">13694.15</text>
<rect x="949" y="114.8" width="26" height="6.4" fill="#ef5350"/>
<text x="962" y="119.8" fill="#fff" text-anchor="middle" style="font-size:4.7px">11327.10</text>
<rect x="953" y="121.9" width="22" height="7" fill="#ef5350"/>
<text x="964" y="127.2" fill="#fff" text-anchor="middle" style="font-size:4.7px">28d 10h</text>
<rect x="949" y="201" width="23.5" height="6.6" fill="#000"/>
<text x="960.7" y="206.3" fill="#fff" text-anchor="middle" style="font-size:4.7px">1110.77</text>
<!-- time tags -->
<rect x="92.9" y="442.1" width="26.2" height="8.8" fill="#2a2af5"/><text x="106.0" y="448.6" fill="#fff" text-anchor="middle" style="font-size:4.7px">01 Nov '12</text><rect x="106.0" y="442.1" width="13.2" height="8.8" fill="#dc0018"/><rect x="119.2" y="442.1" width="12.7" height="8.8" fill="#fa1c1c"/><text x="119.2" y="448.6" fill="#fff" text-anchor="middle" style="font-size:4.7px">01 Jan '13</text>
<rect x="411.1" y="442.1" width="26.2" height="8.8" fill="#2a2af5"/><text x="424.2" y="448.6" fill="#fff" text-anchor="middle" style="font-size:4.7px">01 Nov '16</text><rect x="424.2" y="442.1" width="13.2" height="8.8" fill="#dc0018"/><rect x="437.4" y="442.1" width="12.7" height="8.8" fill="#fa1c1c"/><text x="437.4" y="448.6" fill="#fff" text-anchor="middle" style="font-size:4.7px">01 Jan '17</text>
<rect x="729.5" y="442.1" width="26.2" height="8.8" fill="#2a2af5"/><text x="742.6" y="448.6" fill="#fff" text-anchor="middle" style="font-size:4.7px">01 Nov '20</text><rect x="742.6" y="442.1" width="13.2" height="8.8" fill="#dc0018"/><rect x="755.8" y="442.1" width="12.7" height="8.8" fill="#fa1c1c"/><text x="755.8" y="448.6" fill="#fff" text-anchor="middle" style="font-size:4.7px">01 Jan '21</text>
<!-- logo -->
<g fill="#2196f3"><circle cx="6.5" cy="460.4" r="2.6"/><circle cx="10.4" cy="461.5" r="2.4"/><circle cx="4.1" cy="461.9" r="2.05"/><rect x="4.1" y="461" width="6.3" height="2.95"/></g>
<polyline points="3.85,461.8 6.4,460.2 8.7,462.5 10.9,461.1" fill="none" stroke="#fff" stroke-width="0.75"/>
<text x="13.8" y="462.6" fill="#44474f" style="font-size:5.4px" textLength="27.8" lengthAdjust="spacingAndGlyphs" stroke-width="0.1" stroke="#44474f">TradingView</text>
</svg>
<svg width="980" height="17" style="position:absolute;left:0;top:0">
<text x="2.55" y="7.2" style="font-size:5.1px" fill="#131722" font-weight="bold" textLength="29.3" lengthAdjust="spacingAndGlyphs" stroke-width="0.1" stroke="#131722">TonySpilotro</text>
<text x="32.9" y="7.2" style="font-size:5.1px" fill="#2a2d35" textLength="21.9" lengthAdjust="spacingAndGlyphs" stroke-width="0.1" stroke="#2a2d35">published</text>
<text x="56.1" y="7.2" style="font-size:5.1px" fill="#2a2d35" textLength="6.4" lengthAdjust="spacingAndGlyphs" stroke-width="0.1" stroke="#2a2d35">on</text>
<text x="63.8" y="7.2" style="font-size:5.1px" fill="#2a2d35" textLength="31.9" lengthAdjust="spacingAndGlyphs" stroke-width="0.1" stroke="#2a2d35">TradingView.com,</text>
<text x="96.7" y="7.2" style="font-size:5.1px" fill="#2a2d35" textLength="85.2" lengthAdjust="spacingAndGlyphs" stroke-width="0.1" stroke="#2a2d35">September 02, 2020 10:34:28 EDT</text>
<text x="2.55" y="13.55" style="font-size:5.1px" fill="#131722" font-weight="bold" textLength="43.2" lengthAdjust="spacingAndGlyphs" stroke-width="0.1" stroke="#131722">BITSTAMP:BTCUSD,</text>
<text x="46.9" y="13.55" style="font-size:5.1px" fill="#131722" font-weight="bold" textLength="9.2" lengthAdjust="spacingAndGlyphs" stroke-width="0.1" stroke="#131722">1M</text>
<text x="58.9" y="13.55" style="font-size:5.1px" fill="#2a2d35" textLength="19.5" lengthAdjust="spacingAndGlyphs" stroke-width="0.1" stroke="#2a2d35">11327.10</text>
<path d="M80.6,10.1 L84.4,10.1 L82.5,13.3 Z" fill="#ef3030"/>
<text x="85.7" y="13.55" style="font-size:5.1px" fill="#2a2d35" textLength="17.6" lengthAdjust="spacingAndGlyphs" stroke-width="0.1" stroke="#2a2d35">&#8722;596.86</text>
<text x="104.3" y="13.55" style="font-size:5.1px" fill="#2a2d35" textLength="20.8" lengthAdjust="spacingAndGlyphs" stroke-width="0.1" stroke="#2a2d35">(&#8722;5.01%)</text>
<text x="127" y="13.55" style="font-size:5.1px" fill="#131722" font-weight="bold" textLength="5.1" lengthAdjust="spacingAndGlyphs" stroke-width="0.1" stroke="#131722">O:</text>
<text x="132.8" y="13.55" style="font-size:5.1px" fill="#ef5350" textLength="20.1" lengthAdjust="spacingAndGlyphs" stroke-width="0.1" stroke="#ef5350">11658.48</text>
<text x="154.7" y="13.55" style="font-size:5.1px" fill="#131722" font-weight="bold" textLength="4.8" lengthAdjust="spacingAndGlyphs" stroke-width="0.1" stroke="#131722">H:</text>
<text x="160.6" y="13.55" style="font-size:5.1px" fill="#ef5350" textLength="20.6" lengthAdjust="spacingAndGlyphs" stroke-width="0.1" stroke="#ef5350">12065.82</text>
<text x="182.8" y="13.55" style="font-size:5.1px" fill="#131722" font-weight="bold" textLength="3.5" lengthAdjust="spacingAndGlyphs" stroke-width="0.1" stroke="#131722">L:</text>
<text x="187" y="13.55" style="font-size:5.1px" fill="#ef5350" textLength="21.0" lengthAdjust="spacingAndGlyphs" stroke-width="0.1" stroke="#ef5350">11155.32</text>
<text x="210" y="13.55" style="font-size:5.1px" fill="#131722" font-weight="bold" textLength="4.4" lengthAdjust="spacingAndGlyphs" stroke-width="0.1" stroke="#131722">C:</text>
<text x="215" y="13.55" style="font-size:5.1px" fill="#ef5350" textLength="20.4" lengthAdjust="spacingAndGlyphs" stroke-width="0.1" stroke="#ef5350">11327.10</text>
</svg>
</body></html>
